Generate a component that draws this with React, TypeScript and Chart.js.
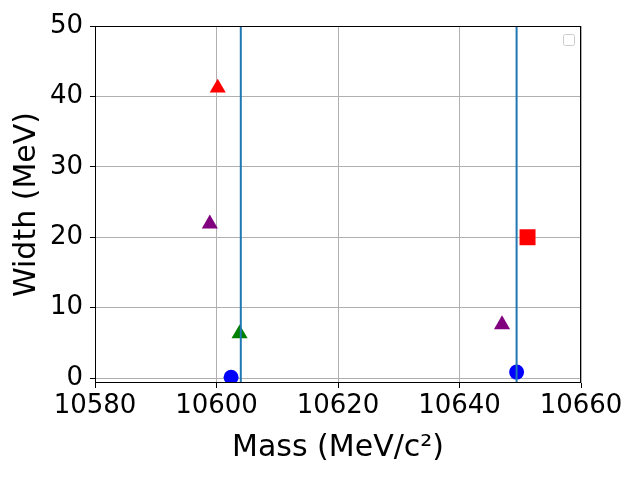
import React, { useEffect, useRef } from 'react';
import { Chart, registerables } from 'chart.js';

Chart.register(...registerables);

const massTicks = [10580, 10600, 10620, 10640, 10660];
const widthTicks = [0, 10, 20, 30, 40, 50];

// measured states: mass (MeV/c^2), width (MeV)
const stateMass = [10600.2, 10598.9, 10603.8, 10602.4, 10647.0, 10649.4, 10651.2];
const stateWidth = [41.2, 21.9, 6.3, 0.1, 7.6, 0.85, 20.0];
const stateColor = ['red', 'purple', 'green', 'blue', 'purple', 'blue', 'red'];
const stateMarker = ['triangle', 'triangle', 'triangle', 'circle', 'triangle', 'circle', 'rect'];

// thresholds drawn as vertical lines
const thresholdMass = [10604.0, 10649.4];

const markerRadius: Record<string, number> = { triangle: 9.3, circle: 7.5, rect: 11.3 };

const FONT = '"DejaVu Sans"';

const framePlugin = {
  id: 'frame',
  afterDraw(chart: any) {
    const { ctx, chartArea } = chart;
    ctx.save();
    ctx.strokeStyle = '#000';
    ctx.lineWidth = 1;
    ctx.strokeRect(chartArea.left + 0.5, chartArea.top + 0.5, chartArea.width - 1, chartArea.height - 1);
    // empty legend box, as in the original figure
    const x = chartArea.right - 18;
    const y = chartArea.top + 8;
    ctx.beginPath();
    ctx.roundRect(x + 0.5, y + 0.5, 11, 11, 2);
    ctx.fillStyle = 'rgba(255,255,255,0.8)';
    ctx.fill();
    ctx.strokeStyle = '#cccccc';
    ctx.stroke();
    ctx.restore();
  },
};

const App: React.FC = () => {
  const chartRef = useRef<HTMLCanvasElement>(null);

  useEffect(() => {
    if (!chartRef.current) return;

    const points = stateMass.map((m, i) => ({ x: m, y: stateWidth[i] }));
    const lines = thresholdMass.map((m) => ({
      data: [{ x: m, y: -10 }, { x: m, y: 60 }],
      showLine: true,
      borderColor: '#1f77b4',
      borderWidth: 2,
      pointRadius: 0,
      clip: 0,
    }));

    const myChart = new Chart(chartRef.current, {
      type: 'scatter',
      data: {
        datasets: [
          ...lines,
          {
            data: points,
            pointStyle: stateMarker as any,
            pointRadius: stateMarker.map((s) => markerRadius[s]),
            backgroundColor: stateColor,
            borderColor: stateColor,
            borderWidth: 0,
            clip: 0,
          },
        ] as any,
      },
      options: {
        animation: false,
        responsive: false,
        layout: { padding: { top: 26, right: 59, left: 0, bottom: 0 } },
        scales: {
          x: {
            type: 'linear',
            min: 10580,
            max: 10660,
            afterBuildTicks: (scale: any) => {
              scale.ticks = massTicks.map((v) => ({ value: v }));
            },
            afterFit: (scale: any) => {
              scale.height = 97;
            },
            grid: { color: '#b0b0b0', tickColor: '#000', tickLength: 5 },
            border: { display: false },
            ticks: {
              color: '#000',
              padding: 3,
              maxRotation: 0,
              callback: (v: any) => String(v),
              font: { family: FONT, size: 26 },
            },
            title: {
              display: true,
              text: 'Mass (MeV/c²)',
              color: '#000',
              padding: { top: 0, bottom: 14 },
              font: { family: FONT, size: 30 },
            },
          },
          y: {
            type: 'linear',
            min: -0.7,
            max: 50,
            afterBuildTicks: (scale: any) => {
              scale.ticks = widthTicks.map((v) => ({ value: v }));
            },
            afterFit: (scale: any) => {
              scale.width = 95;
            },
            grid: { color: '#b0b0b0', tickColor: '#000', tickLength: 5 },
            border: { display: false },
            ticks: {
              color: '#000',
              padding: 7,
              callback: (v: any) => String(v),
              font: { family: FONT, size: 26 },
            },
            title: {
              display: true,
              text: 'Width (MeV)',
              color: '#000',
              padding: { top: 9, bottom: 0 },
              font: { family: FONT, size: 30 },
            },
          },
        },
        plugins: {
          legend: { display: false },
          tooltip: { enabled: false },
        },
      },
      plugins: [framePlugin],
    });

    return () => {
      myChart.destroy();
    };
  }, []);

  return (
    <div style={{ position: 'fixed', left: 0, top: 0, width: 640, height: 480, background: '#fff' }}>
      <canvas ref={chartRef} width={640} height={480} />
    </div>
  );
};

export default App;
